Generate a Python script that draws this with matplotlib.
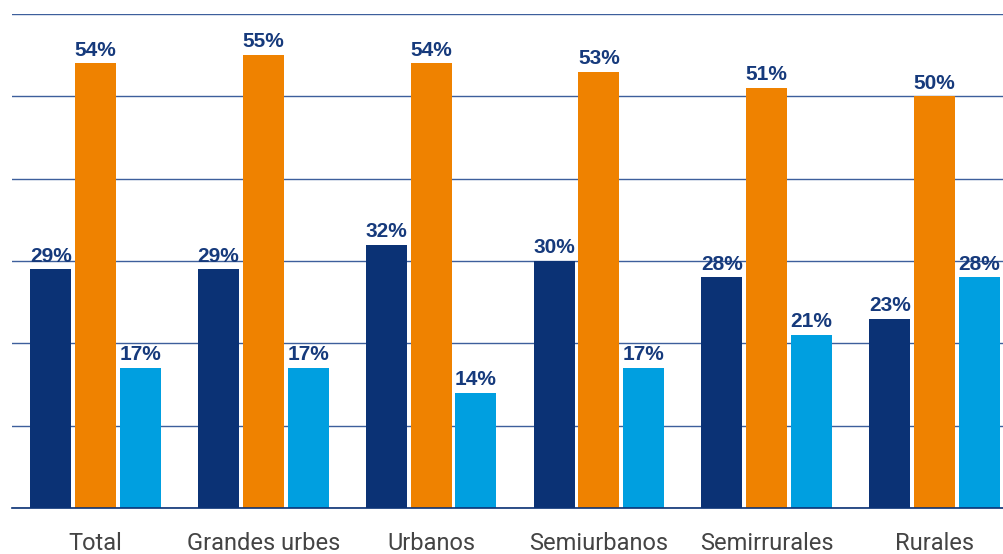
import matplotlib.pyplot as plt
import numpy as np

# Datos
categorias = ['Total', 'Grandes urbes', 'Urbanos', 'Semiurbanos', 'Semirrurales', 'Rurales']
serie_a = [29, 29, 32, 30, 28, 23]   # azul oscuro
serie_b = [54, 55, 54, 53, 51, 50]   # naranja
serie_c = [17, 17, 14, 17, 21, 28]   # azul claro

colores = ['#0b3275', '#ef8200', '#009fe0']
color_texto = '#163a7c'

fig = plt.figure(figsize=(10.04, 5.54), dpi=100)
ax = fig.add_axes([12 / 1004, (554 - 508) / 554, (1004 - 12) / 1004, (508 - 14) / 554])

x = np.arange(len(categorias))
ancho = 0.244
paso = 0.267

for i, (serie, col) in enumerate(zip([serie_a, serie_b, serie_c], colores)):
    pos = x + (i - 1) * paso
    ax.bar(pos, serie, width=ancho, color=col, zorder=3)
    for p, v in zip(pos, serie):
        ax.text(p, v + 0.45, f'{v}%', ha='center', va='bottom', fontsize=15,
                fontweight='bold', color=color_texto, family='Liberation Sans', zorder=4)

ax.set_xlim(-0.4976, 5.414)
ax.set_ylim(0, 60)
ax.set_yticks(np.arange(0, 61, 10))
ax.yaxis.grid(True, color='#3d5f9c', linewidth=1.0, zorder=0)
ax.tick_params(axis='y', left=False, labelleft=False)
ax.tick_params(axis='x', length=0, pad=17)
ax.set_xticks(x)
ax.set_xticklabels(categorias, fontsize=17, color='#444444', family='Roboto')

for s in ['top', 'right', 'left']:
    ax.spines[s].set_visible(False)
ax.spines['bottom'].set_color('#0b3275')
ax.spines['bottom'].set_linewidth(1.2)
ax.spines['bottom'].set_zorder(5)

fig.savefig('out.png', dpi=100)
